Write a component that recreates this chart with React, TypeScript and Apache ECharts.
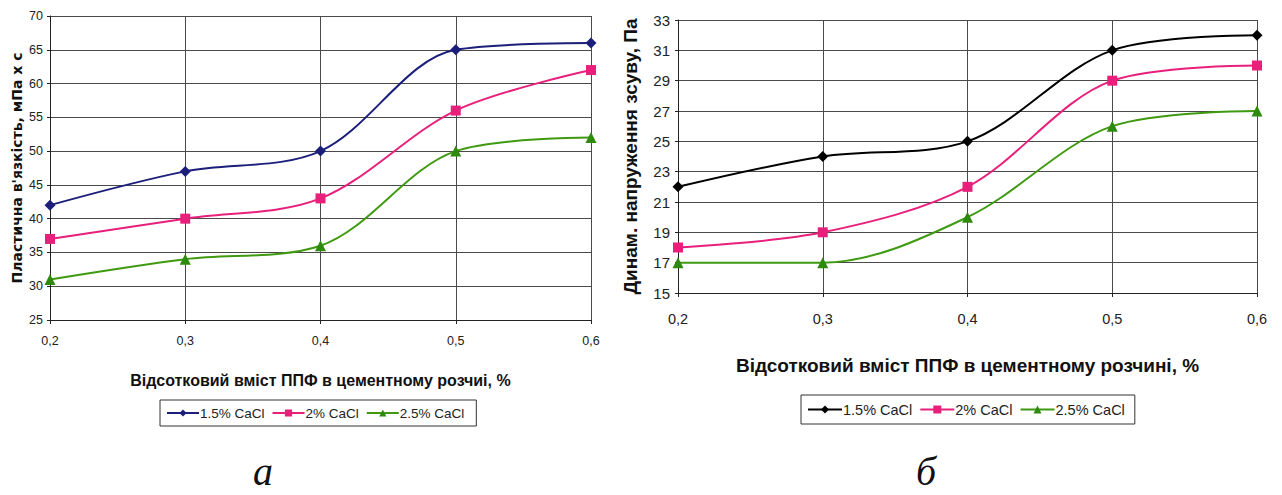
import React, { useEffect, useRef } from "react";
import * as echarts from "echarts";

// Percentage of PPF in cement mortar (x categories)
const categories = ["0,2", "0,3", "0,4", "0,5", "0,6"];
const seriesNames = ["1.5% CaCl", "2% CaCl", "2.5% CaCl"];

// Plastic viscosity, mPa·s
const viscosity15 = [42, 47, 50, 65, 66];
const viscosity20 = [37, 40, 43, 56, 62];
const viscosity25 = [31, 34, 36, 50, 52];

// Dynamic shear stress, Pa
const shear15 = [22, 24, 25, 31, 32];
const shear20 = [18, 19, 22, 29, 30];
const shear25 = [17, 17, 20, 26, 27];

const FONT = "Liberation Sans, Arial, sans-serif";

const leftColors = ["#1c1f7a", "#e8207c", "#3f9a12"];
const rightColors = ["#000000", "#e8207c", "#3f9a12"];
const greenMarker = "#2e8a0c";
const symbols = ["diamond", "rect", "triangle"];
const symbolSizes = [11, 10, 11];

const markerColor = (colors: string[], i: number) => (i === 2 ? greenMarker : colors[i]);

function makeSeries(data: number[][], colors: string[], axisIndex: number): any[] {
  return data.map((values, i) => ({
    name: seriesNames[i],
    type: "line",
    xAxisIndex: axisIndex,
    yAxisIndex: axisIndex,
    data: values,
    smooth: 0.33,
    symbol: symbols[i],
    symbolSize: symbolSizes[i],
    lineStyle: { color: colors[i], width: 2 },
    itemStyle: { color: markerColor(colors, i) },
    z: 5 - i,
  }));
}

// Legend entries carry their own colours, since both charts share series names
function legendItems(colors: string[]) {
  return seriesNames.map((name, i) => ({
    name,
    itemStyle: { color: markerColor(colors, i) },
    lineStyle: { color: colors[i], width: 2 },
  }));
}

const gridLine = { show: true, lineStyle: { color: "#4a4a4a", width: 1 } };

export default function App() {
  const ref = useRef<HTMLDivElement>(null);

  useEffect(() => {
    document.body.style.margin = "0";
    if (!ref.current) return;
    const chart = echarts.init(ref.current, null, { renderer: "svg" });

    chart.setOption({
      animation: false,
      backgroundColor: "#ffffff",
      grid: [
        { left: 50, top: 16, width: 541, height: 304 },
        { left: 678, top: 20, width: 579, height: 273 },
      ],
      xAxis: [
        {
          gridIndex: 0,
          type: "category",
          data: categories,
          boundaryGap: false,
          axisLine: { lineStyle: { color: "#222", width: 1 } },
          axisTick: { show: true, alignWithLabel: true, length: 4, lineStyle: { color: "#222" } },
          axisLabel: { color: "#222", fontSize: 12.5, fontFamily: FONT, margin: 14 },
          splitLine: gridLine,
          name: "Відсотковий вміст ППФ в цементному розчиі, %",
          nameLocation: "middle",
          nameGap: 52,
          nameTextStyle: { color: "#111", fontSize: 16, fontWeight: "bold", fontFamily: FONT },
        },
        {
          gridIndex: 1,
          type: "category",
          data: categories,
          boundaryGap: false,
          axisLine: { lineStyle: { color: "#222", width: 1 } },
          axisTick: { show: true, alignWithLabel: true, length: 4, lineStyle: { color: "#222" } },
          axisLabel: { color: "#222", fontSize: 14.5, fontFamily: FONT, margin: 18 },
          splitLine: gridLine,
          name: "Відсотковий вміст ППФ в цементному розчині, %",
          nameLocation: "middle",
          nameGap: 63,
          nameTextStyle: { color: "#111", fontSize: 19, fontWeight: "bold", fontFamily: FONT },
        },
      ],
      yAxis: [
        {
          gridIndex: 0,
          type: "value",
          min: 25,
          max: 70,
          interval: 5,
          axisLine: { show: true, lineStyle: { color: "#222", width: 1 } },
          axisTick: { show: true, length: 3, lineStyle: { color: "#222" } },
          axisLabel: { color: "#222", fontSize: 12.5, fontFamily: FONT, margin: 7 },
          splitLine: gridLine,
          name: "Пластична в'язкість, мПа х с",
          nameLocation: "middle",
          nameRotate: 90,
          nameGap: 26,
          nameTextStyle: { color: "#111", fontSize: 14, fontWeight: "bold", fontFamily: "DejaVu Sans, sans-serif" },
        },
        {
          gridIndex: 1,
          type: "value",
          min: 15,
          max: 33,
          interval: 2,
          axisLine: { show: true, lineStyle: { color: "#222", width: 1 } },
          axisTick: { show: true, length: 3, lineStyle: { color: "#222" } },
          axisLabel: { color: "#222", fontSize: 15, fontFamily: FONT, margin: 8 },
          splitLine: gridLine,
          name: "Динам. напруження зсуву, Па",
          nameLocation: "middle",
          nameRotate: 90,
          nameGap: 38,
          nameTextStyle: { color: "#111", fontSize: 19, fontWeight: "bold", fontFamily: FONT },
        },
      ],
      legend: [
        {
          data: legendItems(leftColors),
          left: 160,
          top: 400,
          itemWidth: 32,
          itemHeight: 9,
          itemGap: 7,
          padding: [6, 12, 6, 6],
          borderColor: "#333",
          borderWidth: 1,
          textStyle: { color: "#222", fontSize: 13.5, fontFamily: FONT, padding: [0, 0, 0, -4] },
          selectedMode: false,
        },
        {
          data: legendItems(rightColors),
          left: 801,
          top: 395,
          itemWidth: 34,
          itemHeight: 10,
          itemGap: 7,
          padding: [7, 10, 7, 6],
          borderColor: "#333",
          borderWidth: 1,
          textStyle: { color: "#222", fontSize: 14.5, fontFamily: FONT, padding: [0, 0, 0, -4] },
          selectedMode: false,
        },
      ],
      graphic: [
        {
          type: "text",
          x: 263,
          y: 471,
          style: {
            text: "а",
            font: "italic 40px 'Liberation Serif', serif",
            fill: "#111",
            align: "center",
            verticalAlign: "middle",
          },
        },
        {
          type: "text",
          x: 926,
          y: 471,
          style: {
            text: "б",
            font: "italic 40px 'Liberation Serif', serif",
            fill: "#111",
            align: "center",
            verticalAlign: "middle",
          },
        },
      ],
      series: [
        ...makeSeries([viscosity15, viscosity20, viscosity25], leftColors, 0),
        ...makeSeries([shear15, shear20, shear25], rightColors, 1),
      ],
    });

    return () => chart.dispose();
  }, []);

  return <div ref={ref} style={{ width: 1282, height: 495 }} />;
}
